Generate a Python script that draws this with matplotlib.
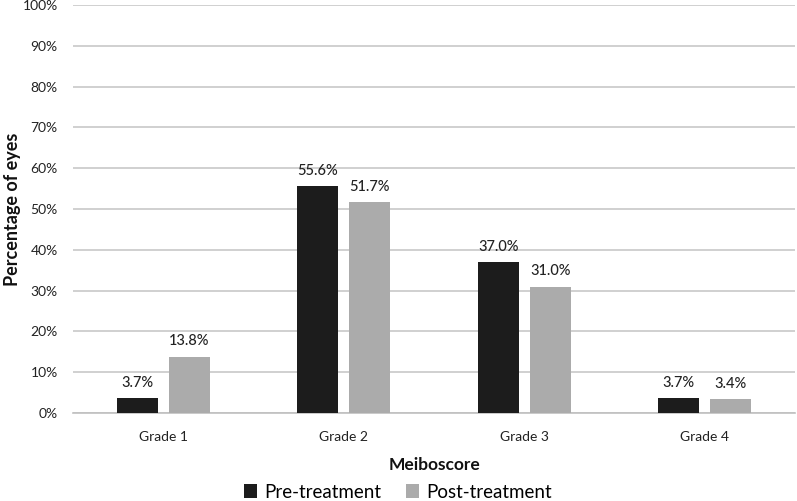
import matplotlib
matplotlib.use("Agg")
import matplotlib.pyplot as plt
import numpy as np

categories = ["Grade 1", "Grade 2", "Grade 3", "Grade 4"]
pre_treatment = [3.7, 55.6, 37.0, 3.7]
post_treatment = [13.8, 51.7, 31.0, 3.4]
series_names = ["Pre-treatment", "Post-treatment"]
yticks = list(range(0, 101, 10))

plt.rcParams['font.family'] = ['Lato', 'DejaVu Sans']

fig = plt.figure(figsize=(7.97, 5.01), dpi=100)
ax = fig.add_axes([73/797, 88/501, 722/797, 408/501])

x = np.arange(len(categories))
w = 0.227
gap = 0.06
off = w/2 + gap/2
b1 = ax.bar(x - off, pre_treatment, w, color="#1c1c1c", label=series_names[0], zorder=3)
b2 = ax.bar(x + off, post_treatment, w, color="#ababab", label=series_names[1], zorder=3)

for bars, vals in ((b1, pre_treatment), (b2, post_treatment)):
    for r, v in zip(bars, vals):
        ax.annotate(f"{v:.1f}%", (r.get_x() + r.get_width()/2, r.get_height()),
                    xytext=(0, 6), textcoords="offset points", ha="center", va="bottom",
                    fontsize=10.5, fontweight="medium", color="#222222")

ax.set_xlim(-0.5, 3.5)
ax.set_ylim(0, 100)
ax.set_yticks(yticks)
ax.set_yticklabels([f"{t}%" for t in yticks], fontsize=10, color="#222222")
ax.set_xticks(x)
ax.set_xticklabels(categories, fontsize=10, color="#222222")
ax.tick_params(axis='both', length=0)
ax.tick_params(axis='y', pad=11)
ax.tick_params(axis='x', pad=13)
ax.grid(axis='y', color="#c8c8c8", linewidth=1.2, zorder=0)
for s in ["top", "right", "left"]:
    ax.spines[s].set_visible(False)
ax.spines["bottom"].set_color("#c0c0c0")
ax.spines["bottom"].set_linewidth(1.2)

ax.set_ylabel("Percentage of eyes", fontsize=13, fontweight="bold", color="#111111")
ax.yaxis.set_label_coords((21 - 73)/722, (501 - 88 - 209)/408)
ax.set_xlabel("Meiboscore", fontsize=12.5, fontweight="bold", color="#111111", labelpad=10)

fig.legend(handles=[b1, b2], labels=series_names, loc="center", bbox_to_anchor=(398/797, 1 - 492/501),
           ncol=2, frameon=False, fontsize=13.5, handlelength=0.7, handleheight=0.7,
           handletextpad=0.4, columnspacing=1.3)

fig.savefig("out.png", dpi=100)
